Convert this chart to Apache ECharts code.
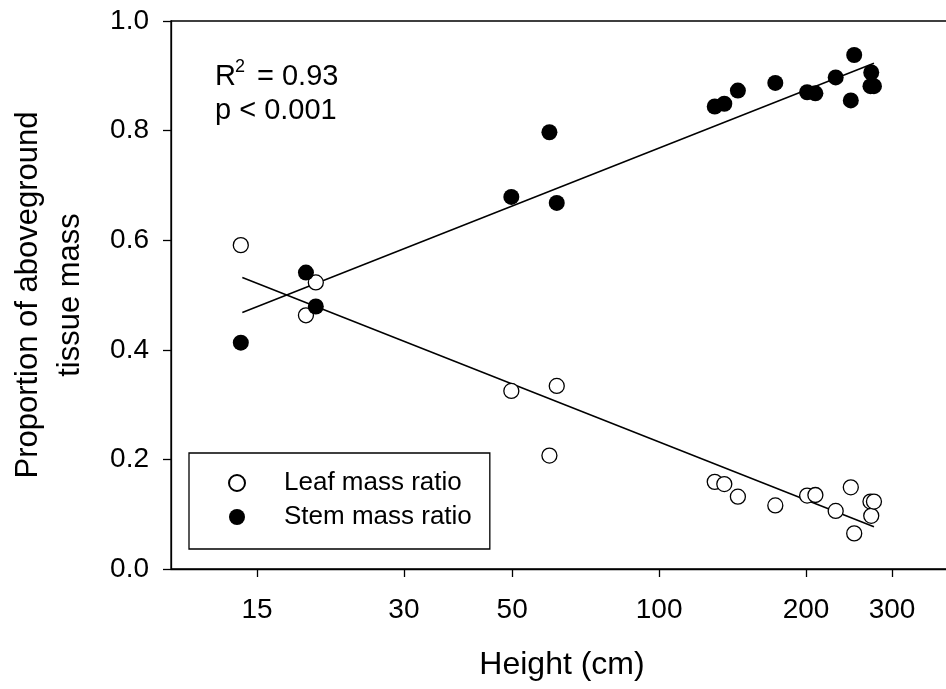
<!DOCTYPE html>
<html>
<head>
<meta charset="utf-8">
<script src="https://cdn.jsdelivr.net/npm/echarts@6/dist/echarts.min.js"></script>
<style>
html,body{margin:0;padding:0;background:#fff;}
#chart{width:946px;height:689px;}
</style>
</head>
<body>
<div id="chart"></div>
<script>
// Heights (cm) of plants
var heights = [13.9, 18.9, 19.8, 49.8, 59.6, 61.7, 130, 136, 145, 173, 201, 209, 230, 247, 251, 271, 272, 275.5];
// Leaf mass ratio
var leafRatio = [0.591, 0.463, 0.523, 0.325, 0.207, 0.334, 0.159, 0.155, 0.132, 0.116, 0.134, 0.135, 0.106, 0.149, 0.065, 0.123, 0.097, 0.123];
// Stem mass ratio
var stemRatio = [0.413, 0.541, 0.479, 0.679, 0.797, 0.668, 0.844, 0.849, 0.873, 0.887, 0.870, 0.868, 0.897, 0.855, 0.938, 0.881, 0.906, 0.881];
// Regression line ends
var fitHeights = [14.0, 275.5];
var leafFit = [0.532, 0.077];
var stemFit = [0.468, 0.923];
// Tick labels
var xTicks = [15, 30, 50, 100, 200, 300];
var yTicks = [0, 0.2, 0.4, 0.6, 0.8, 1.0];

var FONT = 'Liberation Sans, Arial, sans-serif';

function pairs(xs, ys) {
  var out = [];
  for (var i = 0; i < xs.length; i++) out.push([xs[i], ys[i]]);
  return out;
}

var chart = echarts.init(document.getElementById('chart'), null, {renderer: 'canvas'});
var option = {
  animation: false,
  backgroundColor: '#fff',
  grid: {
    left: 171, top: 21, width: 782, height: 548,
    show: true, borderColor: '#000', borderWidth: 1.3,
    containLabel: false, outerBoundsMode: 'none'
  },
  xAxis: {
    type: 'log', logBase: 10, min: 10, max: 400,
    name: 'Height (cm)', nameLocation: 'middle', nameGap: 80,
    nameTextStyle: {fontFamily: FONT, fontSize: 32, color: '#000'},
    axisLine: {show: true, lineStyle: {color: '#000', width: 1.3}},
    axisTick: {show: true, inside: false, length: 8, customValues: xTicks, lineStyle: {color: '#000', width: 1.3}},
    axisLabel: {show: true, customValues: xTicks, margin: 27, fontFamily: FONT, fontSize: 28, color: '#000',
      formatter: function (v) { return String(Math.round(v)); }},
    minorTick: {show: false},
    splitLine: {show: false}
  },
  yAxis: {
    type: 'value', min: 0, max: 1, interval: 0.2,
    name: 'Proportion of aboveground\ntissue mass', nameLocation: 'middle', nameGap: 80, nameRotate: 90,
    nameTextStyle: {fontFamily: FONT, fontSize: 31, color: '#000', lineHeight: 42},
    axisLine: {show: true, lineStyle: {color: '#000', width: 1.3}},
    axisTick: {show: true, inside: false, length: 8, lineStyle: {color: '#000', width: 1.3}},
    axisLabel: {margin: 22, fontFamily: FONT, fontSize: 28, color: '#000',
      customValues: yTicks,
      formatter: function (v) { return v.toFixed(1); }},
    splitLine: {show: false}
  },
  legend: {
    show: true, orient: 'vertical', left: 189, top: 453,
    data: ['Leaf mass ratio', 'Stem mass ratio'],
    padding: [17, 18, 19, 39],
    itemWidth: 16, itemHeight: 16, itemGap: 8,
    borderColor: '#000', borderWidth: 1.3, borderRadius: 0,
    backgroundColor: '#fff',
    textStyle: {fontFamily: FONT, fontSize: 26, color: '#000', padding: [0, 0, 0, 34]},
    icon: 'circle',
    selectedMode: false
  },
  graphic: [
    {type: 'text', left: 215, top: 62, style: {text: 'R', font: '29px ' + FONT, fill: '#000'}},
    {type: 'text', left: 235, top: 58, style: {text: '2', font: '18px ' + FONT, fill: '#000'}},
    {type: 'text', left: 257, top: 62, style: {text: '= 0.93', font: '29px ' + FONT, fill: '#000'}},
    {type: 'text', left: 215, top: 96, style: {text: 'p < 0.001', font: '29px ' + FONT, fill: '#000'}}
  ],
  series: [
    {
      name: 'leafFit', type: 'line', data: pairs(fitHeights, leafFit),
      symbol: 'none', silent: true, z: 2,
      lineStyle: {color: '#000', width: 1.5}
    },
    {
      name: 'stemFit', type: 'line', data: pairs(fitHeights, stemFit),
      symbol: 'none', silent: true, z: 2,
      lineStyle: {color: '#000', width: 1.5}
    },
    {
      name: 'Leaf mass ratio', type: 'scatter', data: pairs(heights, leafRatio),
      symbol: 'circle', symbolSize: 15, z: 3,
      itemStyle: {color: '#fff', borderColor: '#000', borderWidth: 1.3, opacity: 1}
    },
    {
      name: 'Stem mass ratio', type: 'scatter', data: pairs(heights, stemRatio),
      symbol: 'circle', symbolSize: 16, z: 4,
      itemStyle: {color: '#000', borderColor: '#000', borderWidth: 0, opacity: 1}
    }
  ]
};
chart.setOption(option);
</script>
</body>
</html>
